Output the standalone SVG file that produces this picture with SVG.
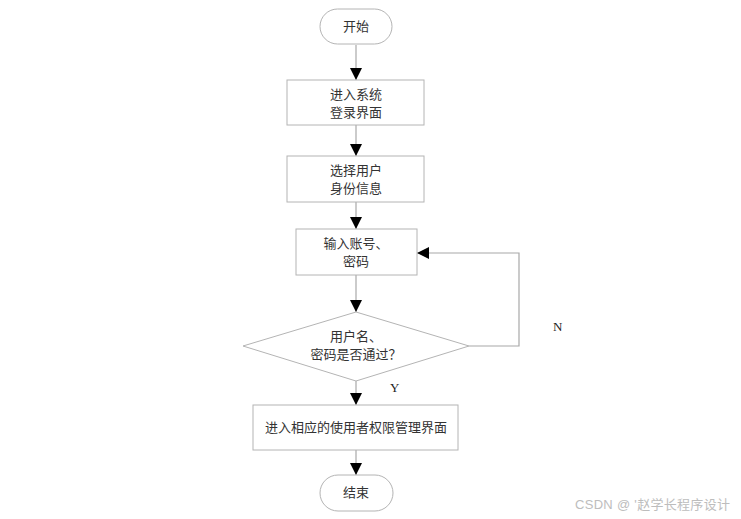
<svg xmlns="http://www.w3.org/2000/svg" width="741" height="519" viewBox="0 0 741 519">
<defs>
<style>
.n{fill:#fff;stroke:#b4b4b4;stroke-width:1}
.t{font-family:"Liberation Serif","Noto Sans CJK SC",serif;font-size:13px;fill:#333;text-anchor:middle}
.l{font-family:"Liberation Serif",serif;font-size:13px;fill:#222}
.c{fill:none;stroke:#a8a8a8;stroke-width:1.2}
.wm{font-family:"Liberation Sans","Noto Sans CJK SC",sans-serif;font-size:13px;fill:#bdbdbd}
</style>
<marker id="ah" markerWidth="12" markerHeight="12" viewBox="0 0 12 12" refX="12" refY="6" orient="auto" markerUnits="userSpaceOnUse">
<path d="M0,0 L12,6 L0,12 Z" fill="#000"/>
</marker>
</defs>
<rect width="741" height="519" fill="#fff"/>
<g id="connectors">
<line class="c" x1="356" y1="45" x2="356" y2="80" marker-end="url(#ah)"/>
<line class="c" x1="356" y1="125" x2="356" y2="156" marker-end="url(#ah)"/>
<line class="c" x1="356" y1="202" x2="356" y2="229" marker-end="url(#ah)"/>
<line class="c" x1="356" y1="275" x2="356" y2="312" marker-end="url(#ah)"/>
<line class="c" x1="356" y1="381" x2="356" y2="405" marker-end="url(#ah)"/>
<line class="c" x1="356" y1="450" x2="356" y2="475" marker-end="url(#ah)"/>
<polyline class="c" points="469,346 519,346 519,253 417,253" marker-end="url(#ah)"/>
<text class="l" x="553" y="331">N</text>
<text class="l" x="390" y="392">Y</text>
</g>
<g id="start">
<rect class="n" x="320" y="9" width="72" height="35" rx="17.5"/>
<text class="t" x="356" y="31">开始</text>
</g>
<g id="login">
<rect class="n" x="287" y="80" width="137" height="45"/>
<text class="t" x="356" y="99">进入系统</text>
<text class="t" x="356" y="117">登录界面</text>
</g>
<g id="role">
<rect class="n" x="287" y="156" width="137" height="46"/>
<text class="t" x="356" y="175">选择用户</text>
<text class="t" x="356" y="193">身份信息</text>
</g>
<g id="input">
<rect class="n" x="296" y="229" width="121" height="46"/>
<text class="t" x="356" y="248">输入账号、</text>
<text class="t" x="356" y="266">密码</text>
</g>
<g id="check">
<polygon class="n" points="356,312 469,346 356,381 243,346"/>
<text class="t" x="356" y="341">用户名、</text>
<text class="t" x="356" y="359">密码是否通过？</text>
</g>
<g id="enter">
<rect class="n" x="253" y="405" width="205" height="45"/>
<text class="t" x="356" y="432">进入相应的使用者权限管理界面</text>
</g>
<g id="end">
<rect class="n" x="320" y="475" width="73" height="36" rx="18"/>
<text class="t" x="356" y="497">结束</text>
</g>
<text class="wm" x="575" y="509" textLength="155" lengthAdjust="spacing">CSDN @ '赵学长程序设计</text>
</svg>
